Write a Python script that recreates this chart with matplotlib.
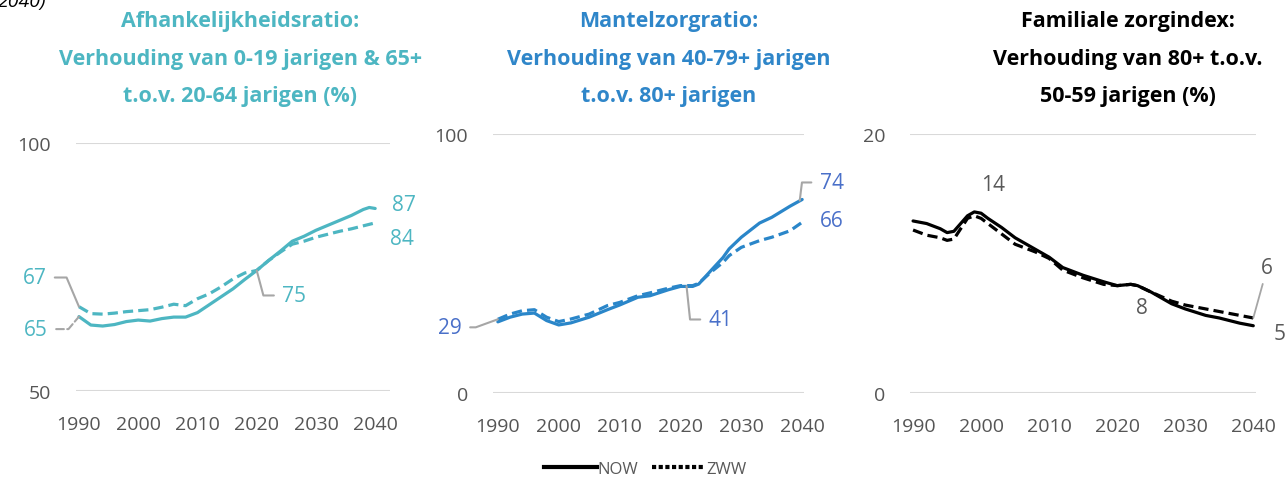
import matplotlib
matplotlib.use('Agg')
import matplotlib.pyplot as plt
from matplotlib.lines import Line2D

plt.rcParams['font.family'] = ['Open Sans', 'DejaVu Sans']

# --- data ---
yrs1 = [1990, 1992, 1994, 1996, 1998, 2000, 2002, 2004, 2006, 2008, 2010, 2012, 2014,
        2016, 2018, 2020, 2022, 2024, 2026, 2028, 2030, 2032, 2034, 2036, 2038, 2039, 2040]
now1 = [65, 63.3, 63.1, 63.4, 64.0, 64.3, 64.1, 64.6, 64.9, 64.9, 65.8, 67.4, 69.0,
        70.6, 72.5, 74.3, 76.3, 78.2, 80.2, 81.2, 82.4, 83.4, 84.4, 85.4, 86.6, 87.0, 86.8]
zww1 = [67, 65.6, 65.5, 65.7, 66.0, 66.2, 66.4, 66.9, 67.5, 67.2, 68.6, 69.6, 71.0,
        72.6, 73.8, 74.3, 76.3, 78.0, 79.6, 80.2, 81.0, 81.6, 82.2, 82.7, 83.3, 83.6, 83.9]

yrs2 = [1990, 1992, 1994, 1996, 1998, 2000, 2002, 2005, 2008, 2010, 2013, 2015,
        2018, 2020, 2022, 2023, 2025, 2027, 2028, 2030, 2033, 2035, 2038, 2040]
now2 = [27.5, 29.3, 30.5, 30.9, 28.0, 26.3, 27.1, 29.3, 32.2, 34.0, 37.0, 37.6,
        39.9, 41.2, 41.2, 42.1, 47.3, 52.4, 55.7, 60.2, 65.7, 67.9, 72.2, 74.8]
zww2 = [28.5, 30.5, 31.8, 32.2, 29.3, 27.6, 28.6, 30.5, 33.8, 35.0, 37.6, 38.7,
        40.5, 41.5, 41.5, 42.4, 46.7, 50.5, 53.1, 56.3, 58.9, 60.2, 62.7, 66.0]

yrs3 = [1990, 1992, 1994, 1995, 1996, 1997, 1998, 1999, 2000, 2001, 2003, 2005, 2008, 2010,
        2012, 2015, 2018, 2020, 2022, 2023, 2025, 2028, 2030, 2033, 2035, 2038, 2040]
now3 = [13.3, 13.1, 12.7, 12.4, 12.5, 13.1, 13.7, 14.0, 13.9, 13.5, 12.8, 12.0, 11.1, 10.5,
        9.7, 9.1, 8.6, 8.3, 8.4, 8.3, 7.8, 6.9, 6.5, 6.0, 5.8, 5.4, 5.2]
zww3 = [12.6, 12.2, 12.0, 11.8, 11.9, 12.7, 13.5, 13.7, 13.5, 13.1, 12.3, 11.5, 10.9, 10.4,
        9.5, 8.9, 8.4, 8.3, 8.4, 8.3, 7.8, 7.1, 6.8, 6.5, 6.3, 6.0, 5.8]

xticks = [1990, 2000, 2010, 2020, 2030, 2040]
titles = [
    ['Afhankelijkheidsratio:', 'Verhouding van 0-19 jarigen & 65+', 't.o.v. 20-64 jarigen (%)'],
    ['Mantelzorgratio:', 'Verhouding van 40-79+ jarigen', 't.o.v. 80+ jarigen'],
    ['Familiale zorgindex:', 'Verhouding van 80+ t.o.v.', '50-59 jarigen (%)'],
]

# label text, year, value, offset (pt), leader: None / (angleA, angleB, linestyle)
labels1 = [('67', 1990, 67, (-32, 21), (0, 113, '-')),
           ('65', 1990, 65, (-31, -9), (0, 50, '--')),
           ('75', 2020, 74.3, (27, -18), (0, 105, '-')),
           ('87', 2040, 86.8, (21, 3), None),
           ('84', 2040, 83.9, (19.5, -11.5), None)]
labels2 = [('29', 1990, 28.5, (-34.5, -5.8), (0, 20, '-')),
           ('41', 2021, 41.3, (24.5, -24), (0, 96, '-')),
           ('74', 2039.6, 74.4, (23, 13), (0, 83, '-')),
           ('66', 2040, 66.0, (21.6, 1.4), None)]
labels3 = [('14', 1999, 14.0, (13.7, 20), None),
           ('8', 2022, 8.4, (8, -16.6), None),
           ('6', 2040, 5.8, (10, 36), 'straight'),
           ('5', 2040, 5.2, (18.7, -5.8), None)]

panels = [
    dict(yrs=yrs1, now=now1, zww=zww1, ylim=(50, 100), xlim=(1989.5, 2042.5),
         rect=[76, 144, 390, 392], color='#4DB6C2', lab_color='#4DB6C2',
         title_color='#4DB6C2', labels=labels1, title_x=240),
    dict(yrs=yrs2, now=now2, zww=zww2, ylim=(0, 100), xlim=(1989.2, 2040.3),
         rect=[493, 135.3, 804, 394], color='#2A86C9', lab_color='#4A70C9',
         title_color='#2F86C9', labels=labels2, title_x=669),
    dict(yrs=yrs3, now=now3, zww=zww3, ylim=(0, 20), xlim=(1989.55, 2040.4),
         rect=[910, 135.3, 1256, 394], color='black', lab_color='#595959',
         title_color='black', labels=labels3, title_x=1128),
]

W, H = 1287, 485
fig = plt.figure(figsize=(W / 100, H / 100), dpi=100)

for i, p in enumerate(panels):
    x0, ytop, x1, ybot = p['rect']
    ax = fig.add_axes([x0 / W, 1 - ybot / H, (x1 - x0) / W, (ybot - ytop) / H])
    ax.plot(p['yrs'], p['now'], color=p['color'], lw=2.3, solid_capstyle='round',
            clip_on=False, zorder=3)
    ax.plot(p['yrs'], p['zww'], color=p['color'], lw=2.3, ls=(0, (3.2, 1.6)),
            clip_on=False, zorder=3)
    ax.set_xlim(p['xlim'])
    ax.set_ylim(p['ylim'])
    ax.set_yticks(list(p['ylim']))
    ax.set_xticks(xticks)
    ax.grid(axis='y', color='#D9D9D9', lw=1.5)
    ax.set_axisbelow(True)
    for s in ax.spines.values():
        s.set_visible(False)
    ax.tick_params(length=0, labelsize=14, labelcolor='#555555')
    ax.tick_params(axis='y', pad=18)
    ax.tick_params(axis='x', pad=17)

    for txt, yr, val, off, leader in p['labels']:
        kw = dict(xy=(yr, val), xytext=off, textcoords='offset points',
                  ha='center', va='center', fontsize=15, color=p['lab_color'],
                  annotation_clip=False)
        if leader == 'straight':
            kw['arrowprops'] = dict(arrowstyle='-', color='#A6A6A6', lw=1.3,
                                    shrinkA=2, shrinkB=0)
        elif leader is not None:
            a, b, ls = leader
            kw['arrowprops'] = dict(arrowstyle='-', color='#A6A6A6', lw=1.5, ls=ls,
                                    connectionstyle='angle,angleA=%d,angleB=%d,rad=0' % (a, b),
                                    shrinkA=4, shrinkB=0)
        ax.annotate(txt, **kw)

    for j, line in enumerate(titles[i]):
        fig.text(p['title_x'] / W, 1 - [22, 60, 97][j] / H, line, ha='center', va='center',
                 fontsize=15.5, fontweight='bold', color=p['title_color'])

# caption pieces that the source image cuts off at its edges
fig.text(-0.002, 1 - 2 / H, '2040)', ha='left', va='center', fontsize=14,
         style='italic', color='black')
fig.text(0.0, 1 - 494 / H, 'Bron: (Provinciale Cijfers, 2022)', ha='left', va='center',
         fontsize=13, color='#333333')

handles = [Line2D([], [], color='black', lw=3),
           Line2D([], [], color='black', lw=3, ls=(0, (1.0, 0.6)))]
leg = fig.legend(handles, ['NOW', 'ZWW'], loc='center', bbox_to_anchor=(645 / W, 1 - 470 / H),
                 ncol=2, frameon=False, handlelength=3.2, handletextpad=0.05,
                 columnspacing=0.8, prop={'size': 12})
for t in leg.get_texts():
    t.set_color('#595959')

fig.savefig('out.png', dpi=100)
